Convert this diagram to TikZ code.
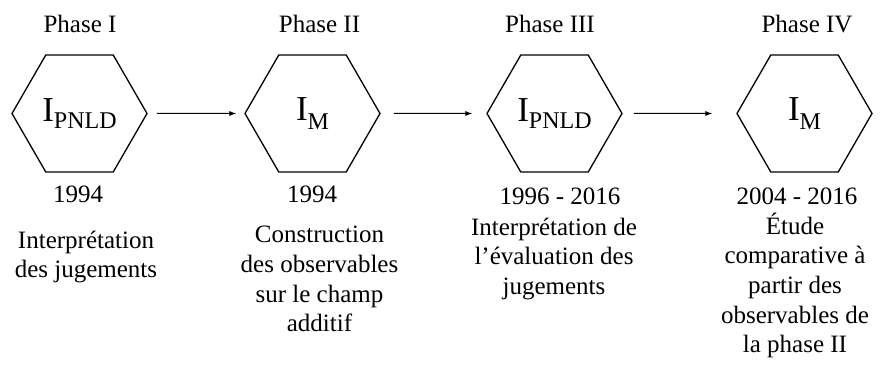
\documentclass[tikz,border=0pt]{standalone}
\usepackage{fontspec}
\setmainfont{Liberation Serif}
\usetikzlibrary{arrows.meta,shapes.geometric,positioning}

\newcommand{\hexlabel}[2]{{\fontsize{17.5}{20}\selectfont I}\raisebox{-#2}{\fontsize{12}{14}\selectfont #1}}

\begin{document}
\begin{tikzpicture}[
    x=0.5pt, y=-0.5pt,
    hexa/.style={draw, regular polygon, regular polygon sides=6, minimum size=67.5pt, inner sep=0pt, line width=0.65pt},
    arr/.style={-{Latex[length=3.5pt,width=2.6pt]}, line width=0.5pt},
    lbl/.style={font=\fontsize{12.5}{14.85}\selectfont, anchor=base, align=center, inner sep=0pt}
]
\useasboundingbox (0,0) rectangle (883,373);

% hexagons
\node[hexa] (h1) at (79.5,113.5) {\hexlabel{PNLD}{3.5pt}};
\node[hexa] (h2) at (312.5,113.5) {\hexlabel{M}{4.5pt}};
\node[hexa] (h3) at (554.5,113.5) {\hexlabel{PNLD}{3.5pt}};
\node[hexa] (h4) at (804.5,113.5) {\hexlabel{M}{4.5pt}};

% phases
\node[lbl] (ph1) at (80,32.5) {Phase I};
\node[lbl] (ph2) at (319.5,32.5) {Phase II};
\node[lbl] (ph3) at (550,32.5) {Phase III};
\node[lbl] (ph4) at (807,32.5) {Phase IV};

% years
\node[lbl] (yr1) at (78,203) {1994};
\node[lbl] (yr2) at (312,203) {1994};
\node[lbl] (yr3) at (560,205) {1996 - 2016};
\node[lbl] (yr4) at (797,205) {2004 - 2016};

% descriptions (base = last line)
\node[lbl] (ds1) at (86,278) {Interprétation\\des jugements};
\node[lbl] (ds2) at (319.5,332) {Construction\\des observables\\sur le champ\\additif};
\node[lbl] (ds3) at (554,294.5) {Interprétation de\\l’évaluation des\\jugements};
\node[lbl] (ds4) at (795,353) {Étude\\comparative à\\partir des\\observables de\\la phase II};

\draw[arr, shorten <=4.5pt, shorten >=4pt] (h1) -- (h2);
\draw[arr, shorten <=6.5pt, shorten >=7pt] (h2) -- (h3);
\draw[arr, shorten <=5.5pt, shorten >=12pt] (h3) -- (h4);
\end{tikzpicture}
\end{document}
